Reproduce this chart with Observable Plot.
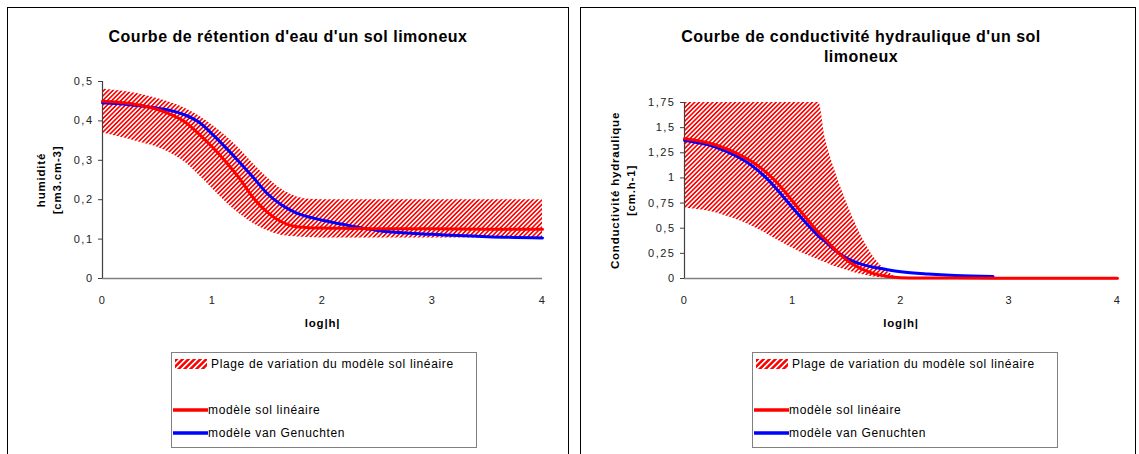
<!DOCTYPE html>
<html><head><meta charset="utf-8">
<script src="https://cdn.jsdelivr.net/npm/d3@7"></script>
<script src="https://cdn.jsdelivr.net/npm/@observablehq/plot@0.6"></script>
<style>
html,body{margin:0;padding:0;background:#fff}
body{font-family:"Liberation Sans",Arial,sans-serif;width:1139px;height:454px;overflow:hidden;position:relative}
.panel{position:absolute;top:7px;height:470px;border:1px solid #000;box-sizing:border-box}
.title{position:absolute;font-weight:bold;font-size:16px;letter-spacing:0.5px;line-height:20px;text-align:center;color:#000;white-space:nowrap;transform:translateX(-50%)}
.chart{position:absolute;top:70px}
.legend{position:absolute;top:352px;width:306px;height:96px;border:1px solid #808080;box-sizing:border-box;font-size:12px;letter-spacing:0.65px;color:#000;background:#fff}
.legend .item{position:absolute;white-space:nowrap;line-height:16px}
.legend svg{position:absolute}
</style>
</head><body>
<div class="panel" style="left:7px;width:562px"></div>
<div class="panel" style="left:580px;width:556px"></div>
<div class="title" style="left:288px;top:27px">Courbe de rétention d'eau d'un sol limoneux</div>
<div class="title" style="left:861px;top:27px">Courbe de conductivité hydraulique d'un sol<br>limoneux</div>
<div id="chartL" class="chart" style="left:10px"></div>
<div id="chartR" class="chart" style="left:590px"></div>
<div id="legendL" class="legend" style="left:171px"></div>
<div id="legendR" class="legend" style="left:752px"></div>
<script>
// ---- Data: water retention curve (left) ----
const retentionX =      [0,     0.125, 0.25,  0.375, 0.5,   0.625, 0.75,  0.875, 1,     1.125, 1.25,  1.375, 1.5,   1.625, 1.75,  1.875, 2,     2.25,  2.5,   3,     3.5,   4];
const retentionUpper =  [0.481, 0.477, 0.473, 0.466, 0.457, 0.446, 0.432, 0.413, 0.389, 0.361, 0.328, 0.290, 0.256, 0.227, 0.209, 0.201, 0.200, 0.200, 0.200, 0.200, 0.200, 0.200];
const retentionLower =  [0.369, 0.361, 0.353, 0.343, 0.333, 0.317, 0.295, 0.263, 0.228, 0.193, 0.163, 0.139, 0.121, 0.110, 0.106, 0.104, 0.103, 0.103, 0.103, 0.103, 0.103, 0.103];
const retentionLinear = [0.450, 0.448, 0.444, 0.438, 0.429, 0.416, 0.397, 0.367, 0.333, 0.295, 0.252, 0.203, 0.168, 0.144, 0.132, 0.129, 0.128, 0.127, 0.126, 0.126, 0.125, 0.125];
const retentionVG =     [0.446, 0.444, 0.441, 0.437, 0.432, 0.426, 0.415, 0.397, 0.366, 0.331, 0.294, 0.255, 0.215, 0.187, 0.168, 0.156, 0.148, 0.134, 0.122, 0.112, 0.106, 0.103];
const retentionYTicks = [0, 0.1, 0.2, 0.3, 0.4, 0.5];

// ---- Data: hydraulic conductivity curve (right) ----
const conductivityX =      [0,     0.125, 0.25,  0.375, 0.5,   0.625, 0.75,  0.875, 1,     1.125, 1.24,  1.3,   1.375, 1.5,   1.625, 1.75,  1.875, 2,     2.25,  2.5,   2.85,  3,     3.5,   4];
const conductivityUpper =  [1.75,  1.75,  1.75,  1.75,  1.75,  1.75,  1.75,  1.75,  1.75,  1.75,  1.75,  1.40,  1.12,  0.75,  0.44,  0.21,  0.07,  0,     0,     0,     0,     0,     0,     0];
const conductivityLower =  [0.70,  0.685, 0.663, 0.625, 0.580, 0.520, 0.450, 0.372, 0.300, 0.235, 0.185, 0.160, 0.125, 0.083, 0.042, 0.015, 0.004, 0,     0,     0,     0,     0,     0,     0];
const conductivityLinear = [1.39,  1.37,  1.34,  1.295, 1.235, 1.16,  1.06,  0.93,  0.765, 0.60,  0.455, 0.39,  0.305, 0.182, 0.10,  0.048, 0.020, 0.008, 0.005, 0.004, 0.003, 0.003, 0.003, 0.003];
const conductivityVG =     [1.375, 1.35,  1.32,  1.27,  1.205, 1.12,  1.005, 0.86,  0.70,  0.55,  0.42,  0.37,  0.295, 0.20,  0.145, 0.112, 0.088, 0.068, 0.045, 0.030, 0.020, null,  null,  null];
const conductivityYTicks = [0, 0.25, 0.5, 0.75, 1, 1.25, 1.5, 1.75];

const xTicks = [0, 1, 2, 3, 4];
const xLabel = "log|h|";
const seriesNames = ["Plage de variation du modèle sol linéaire", "modèle sol linéaire", "modèle van Genuchten"];

const RED = "#ff0000", BLUE = "#0000ff";
const fmt = d => String(d).replace(".", ",");
const hatch = (id, p, w) => `<pattern id="${id}" patternUnits="userSpaceOnUse" width="${p}" height="${p}" patternTransform="rotate(45)"><rect x="0" y="0" width="${w}" height="${p}" fill="${RED}" shape-rendering="crispEdges"/></pattern>`;

function makeChart(o) {
  const rows = o.xs.map((x, i) => ({x, upper: o.upper[i], lower: o.lower[i], linear: o.linear[i], vg: o.vg[i]}));
  const svg = Plot.plot({
    width: o.width, height: 260,
    marginLeft: o.ml, marginRight: o.mr, marginTop: o.mt, marginBottom: 52,
    style: {fontFamily: '"Liberation Sans", Arial, sans-serif', fontSize: "11px", color: "#222", background: "transparent", overflow: "visible"},
    x: {domain: [0, 4]},
    y: {domain: o.yDomain},
    marks: [
      Plot.areaY(rows, {x: "x", y1: "lower", y2: "upper", fill: `url(#${o.id})`, curve: "monotone-x"}),
      Plot.ruleY([0], {stroke: "#808080", strokeWidth: 1.5}),
      Plot.ruleX([0], {y1: o.yDomain[0], y2: o.yDomain[1], stroke: "#404040", strokeWidth: 1.2}),
      Plot.line(rows.filter(d => d.vg != null), {x: "x", y: "vg", stroke: BLUE, strokeWidth: 3, curve: "monotone-x"}),
      Plot.line(rows, {x: "x", y: "linear", stroke: RED, strokeWidth: 3, curve: "monotone-x"}),
      Plot.axisX(xTicks, {tickSize: 0, tickPadding: 18, label: null, tickFormat: fmt}),
      Plot.axisY(o.yTicks, {tickSize: 4, tickPadding: 5, label: null, tickFormat: fmt, stroke: "#404040"}),
      Plot.text([xLabel], {text: d => d, frameAnchor: "bottom", lineAnchor: "middle", dy: 45, fontWeight: "bold", fontSize: 11.5, fill: "#000"}),
      Plot.text([o.ylabel], {text: d => d, frameAnchor: "left", textAnchor: "middle", lineAnchor: "middle", rotate: -90, dx: o.ylabelDx, fontWeight: "bold", fontSize: 11.5, fill: "#000", lineHeight: 1.45})
    ]
  });
  const s = d3.select(svg);
  s.insert("defs", ":first-child").html(hatch(o.id, 3.2, 1.5));
  s.selectAll('g[aria-label$="tick label"] text').style("letter-spacing", "1.5px");
  s.selectAll('g[aria-label="text"] text').style("letter-spacing", "0.8px");
  return svg;
}

document.getElementById("chartL").appendChild(makeChart({
  id: "hatchL", xs: retentionX, upper: retentionUpper, lower: retentionLower,
  linear: retentionLinear, vg: retentionVG, yDomain: [0, 0.5], yTicks: retentionYTicks,
  ylabel: "humidité\n[cm3.cm-3]", ylabelDx: -55, width: 550, ml: 92, mr: 18, mt: 11
}));
document.getElementById("chartR").appendChild(makeChart({
  id: "hatchR", xs: conductivityX, upper: conductivityUpper, lower: conductivityLower,
  linear: conductivityLinear, vg: conductivityVG, yDomain: [0, 1.75], yTicks: conductivityYTicks,
  ylabel: "Conductivité hydraulique\n[cm.h-1]", ylabelDx: -63, width: 549, ml: 94, mr: 22, mt: 32
}));

function makeLegend(el, pid) {
  const box = d3.select(el);
  const sw = box.append("svg").attr("width", 32).attr("height", 10).style("left", "3px").style("top", "6px");
  sw.append("defs").html(hatch(pid, 4.2, 2.3));
  sw.append("rect").attr("width", 32).attr("height", 10).attr("fill", `url(#${pid})`);
  box.append("div").attr("class", "item").style("left", "39px").style("top", "3px").text(seriesNames[0]);
  [[RED, 57, seriesNames[1]], [BLUE, 80, seriesNames[2]]].forEach(([c, y, t]) => {
    const s = box.append("svg").attr("width", 36).attr("height", 6).style("left", "0px").style("top", (y - 3) + "px");
    s.append("line").attr("x1", 1).attr("x2", 36).attr("y1", 3).attr("y2", 3).attr("stroke", c).attr("stroke-width", 3.5);
    box.append("div").attr("class", "item").style("left", "36px").style("top", (y - 8) + "px").text(t);
  });
}
makeLegend(document.getElementById("legendL"), "hatchLegL");
makeLegend(document.getElementById("legendR"), "hatchLegR");
</script>
</body></html>
